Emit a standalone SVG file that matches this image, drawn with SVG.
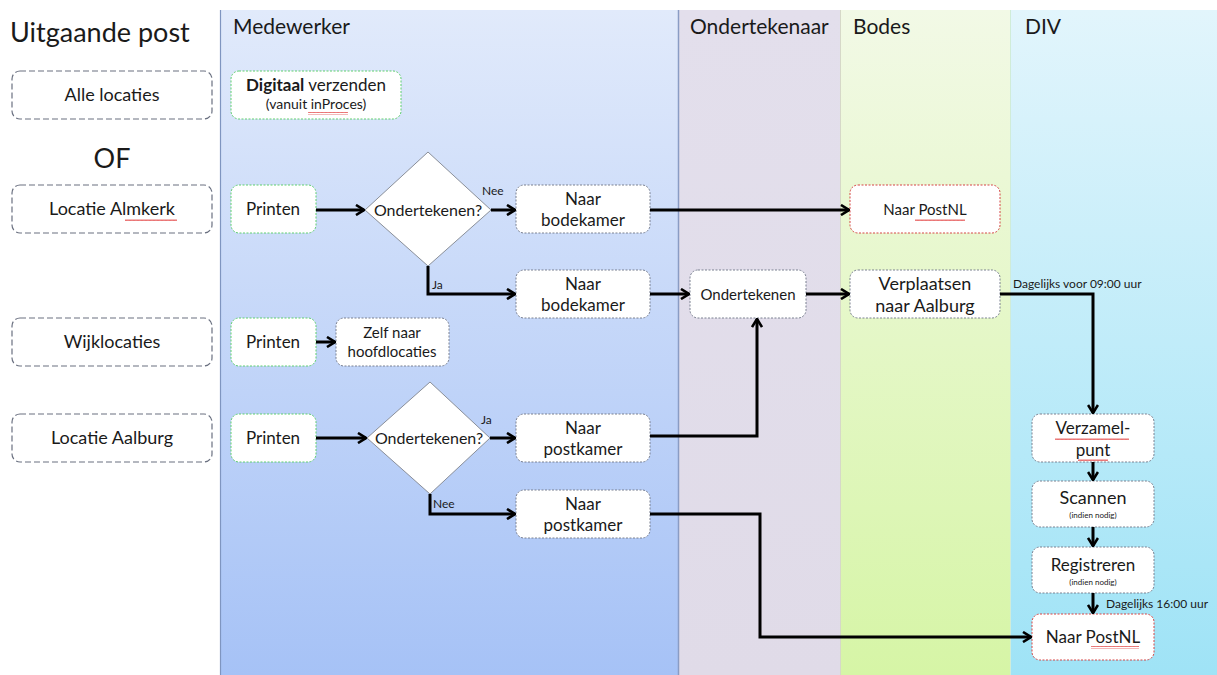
<svg xmlns="http://www.w3.org/2000/svg" width="1217" height="675" viewBox="0 0 1217 675">
<defs>
<linearGradient id="gMed" x1="0" y1="0" x2="0" y2="1"><stop offset="0" stop-color="#e1eafb"/><stop offset="1" stop-color="#a6c2f6"/></linearGradient>
<linearGradient id="gOnd" x1="0" y1="0" x2="0" y2="1"><stop offset="0" stop-color="#e3dfec"/><stop offset="1" stop-color="#e0dbe8"/></linearGradient>
<linearGradient id="gBod" x1="0" y1="0" x2="0" y2="1"><stop offset="0" stop-color="#f2f9e6"/><stop offset="1" stop-color="#d6f5a6"/></linearGradient>
<linearGradient id="gDiv" x1="0" y1="0" x2="0" y2="1"><stop offset="0" stop-color="#e2f5fc"/><stop offset="1" stop-color="#9fe3f6"/></linearGradient>
<marker id="arr" viewBox="0 0 12 12" refX="11" refY="6" markerWidth="12" markerHeight="12" markerUnits="userSpaceOnUse" orient="auto">
<polyline points="3,1 11,6 3,11" fill="none" stroke="#000" stroke-width="2.6"/>
</marker>
<pattern id="wave" width="4" height="3" patternUnits="userSpaceOnUse"><path d="M0,2 L1,0.5 L2,2 L3,0.5 L4,2" fill="none" stroke="#d22" stroke-width="0.7"/></pattern>
</defs>
<style>
text{font-family:Lato,"Open Sans","Liberation Sans",sans-serif;fill:#1a1a1a}
.hdr{font-size:21px}
.t{font-size:17px;text-anchor:middle}
.l{font-size:18px;text-anchor:middle}
.s{font-size:12px}
.xs{font-size:12px}
.xxs{font-size:8px;text-anchor:middle}
.loc{fill:#fff;stroke:#6a7080;stroke-width:1.2;stroke-dasharray:6,3}
.g{fill:#fff;stroke:#5fcf6f;stroke-width:1;stroke-dasharray:2,1.5}
.n{fill:#fff;stroke:#7a8090;stroke-width:1;stroke-dasharray:2,1.5}
.r{fill:#fff;stroke:#d64545;stroke-width:1;stroke-dasharray:2,1.5}
.d{fill:#fff;stroke:#8a8f99;stroke-width:1}
.c{fill:none;stroke:#000;stroke-width:3;marker-end:url(#arr)}
.w{fill:url(#wave)}
</style>
<rect x="0" y="0" width="1217" height="675" fill="#fff"/>
<g id="lanes">
<rect x="220" y="10" width="458" height="665" fill="url(#gMed)"/>
<rect x="678" y="10" width="162" height="665" fill="url(#gOnd)"/>
<rect x="840" y="10" width="170" height="665" fill="url(#gBod)"/>
<rect x="1010" y="10" width="207" height="665" fill="url(#gDiv)"/>
<line x1="220.5" y1="10" x2="220.5" y2="675" stroke="#7f95c0" stroke-width="1.2"/>
<line x1="678.5" y1="10" x2="678.5" y2="675" stroke="#8a9cc4" stroke-width="1.5"/>
<line x1="840.5" y1="10" x2="840.5" y2="675" stroke="#d6d8c8" stroke-width="1"/>
<line x1="1010.5" y1="10" x2="1010.5" y2="675" stroke="#d0ecd8" stroke-width="1"/>
<text class="hdr" x="233" y="34">Medewerker</text>
<text class="hdr" x="690" y="34">Ondertekenaar</text>
<text class="hdr" x="853" y="34">Bodes</text>
<text class="hdr" x="1025" y="34">DIV</text>
</g>
<g id="title"><text x="10" y="42" style="font-size:27px">Uitgaande post</text></g>
<g id="loc-alle"><rect class="loc" x="12" y="71" width="200" height="48" rx="8"/><text class="l" x="112" y="101">Alle locaties</text></g>
<g id="of"><text x="112" y="168" style="font-size:27px;text-anchor:middle">OF</text></g>
<g id="loc-almkerk"><rect class="loc" x="12" y="185" width="200" height="48" rx="8"/><text class="l" x="112" y="215">Locatie Almkerk</text><rect class="w" x="125" y="218" width="52" height="3"/></g>
<g id="loc-wijk"><rect class="loc" x="12" y="318" width="200" height="48" rx="8"/><text class="l" x="112" y="348">Wijklocaties</text></g>
<g id="loc-aalburg"><rect class="loc" x="12" y="414" width="200" height="48" rx="8"/><text class="l" x="112" y="444">Locatie Aalburg</text></g>

<g id="digitaal"><rect class="g" x="231" y="71" width="170" height="48" rx="8"/><text class="t" x="316" y="91"><tspan font-weight="bold">Digitaal</tspan> verzenden</text><text x="316" y="109" style="font-size:14px;text-anchor:middle">(vanuit inProces)</text><rect class="w" x="308" y="112" width="40" height="3"/></g>
<g id="printen1"><rect class="g" x="231" y="185" width="85" height="48" rx="8"/><text class="t" x="273" y="215">Printen</text></g>
<g id="beslis1"><polygon class="d" points="428,152 491,210 428,266 365,210"/><text x="428" y="216" style="font-size:16px;text-anchor:middle">Ondertekenen?</text></g>
<g id="bodekamer1"><rect class="n" x="516" y="185" width="134" height="48" rx="8"/><text class="t" x="583" y="205">Naar</text><text class="t" x="583" y="226">bodekamer</text></g>
<g id="bodekamer2"><rect class="n" x="516" y="270" width="134" height="48" rx="8"/><text class="t" x="583" y="290">Naar</text><text class="t" x="583" y="311">bodekamer</text></g>
<g id="printen2"><rect class="g" x="231" y="318" width="85" height="48" rx="8"/><text class="t" x="273" y="348">Printen</text></g>
<g id="zelf"><rect class="n" x="336" y="318" width="113" height="48" rx="8"/><text x="392" y="338" style="font-size:15px;text-anchor:middle">Zelf naar</text><text x="392" y="357" style="font-size:15px;text-anchor:middle">hoofdlocaties</text></g>
<g id="printen3"><rect class="g" x="231" y="414" width="85" height="48" rx="8"/><text class="t" x="273" y="444">Printen</text></g>
<g id="beslis2"><polygon class="d" points="430,382 490,438 430,494 367,438"/><text x="429" y="444" style="font-size:16px;text-anchor:middle">Ondertekenen?</text></g>
<g id="postkamer1"><rect class="n" x="516" y="414" width="134" height="48" rx="8"/><text class="t" x="583" y="434">Naar</text><text class="t" x="583" y="455">postkamer</text></g>
<g id="postkamer2"><rect class="n" x="516" y="490" width="134" height="48" rx="8"/><text class="t" x="583" y="510">Naar</text><text class="t" x="583" y="531">postkamer</text></g>

<g id="ondertekenen"><rect class="n" x="690" y="270" width="116" height="48" rx="8"/><text x="748" y="300" style="font-size:15px;text-anchor:middle">Ondertekenen</text></g>
<g id="postnl1"><rect class="r" x="850" y="185" width="150" height="48" rx="8"/><text x="925" y="215" style="font-size:15px;text-anchor:middle">Naar PostNL</text><rect class="w" x="915" y="218" width="50" height="3"/></g>
<g id="verplaatsen"><rect class="n" x="850" y="270" width="150" height="48" rx="8"/><text x="925" y="290" style="font-size:18px;text-anchor:middle">Verplaatsen</text><text x="925" y="312" style="font-size:18px;text-anchor:middle">naar Aalburg</text></g>

<g id="verzamel"><rect class="n" x="1032" y="414" width="122" height="48" rx="8"/><text class="t" x="1093" y="434">Verzamel-</text><text class="t" x="1093" y="456">punt</text><rect class="w" x="1055" y="437" width="74" height="3"/><rect class="w" x="1078" y="459" width="30" height="3"/></g>
<g id="scannen"><rect class="n" x="1032" y="481" width="122" height="46" rx="8"/><text x="1093" y="504" style="font-size:18px;text-anchor:middle">Scannen</text><text class="xxs" x="1093" y="518">(indien nodig)</text></g>
<g id="registreren"><rect class="n" x="1032" y="547" width="122" height="46" rx="8"/><text class="t" x="1093" y="571">Registreren</text><text class="xxs" x="1093" y="585">(indien nodig)</text></g>
<g id="postnl2"><rect class="r" x="1032" y="614" width="122" height="46" rx="8"/><text class="t" x="1093" y="643">Naar PostNL</text><rect class="w" x="1091" y="646" width="48" height="3"/></g>

<g id="connectors">
<path class="c" d="M316,210 H364"/>
<path class="c" d="M491,210 H515"/>
<path class="c" d="M428,266 V294 H515"/>
<path class="c" d="M650,210 H849"/>
<path class="c" d="M650,294 H689"/>
<path class="c" d="M806,294 H849"/>
<path class="c" d="M1000,294 H1093 V413"/>
<path class="c" d="M316,342 H335"/>
<path class="c" d="M316,438 H366"/>
<path class="c" d="M490,438 H515"/>
<path class="c" d="M650,436 H757 V319"/>
<path class="c" d="M430,494 V514 H515"/>
<path class="c" d="M650,514 H760 V637 H1031"/>
<path class="c" d="M1093,462 V480"/>
<path class="c" d="M1093,527 V546"/>
<path class="c" d="M1093,593 V613"/>
<text class="s" x="482" y="195">Nee</text>
<text class="s" x="432" y="289">Ja</text>
<text class="s" x="481" y="424">Ja</text>
<text class="s" x="433" y="508">Nee</text>
<text class="xs" x="1013" y="288">Dagelijks voor 09:00 uur</text>
<text class="xs" x="1106" y="608">Dagelijks 16:00 uur</text>
</g>
</svg>
